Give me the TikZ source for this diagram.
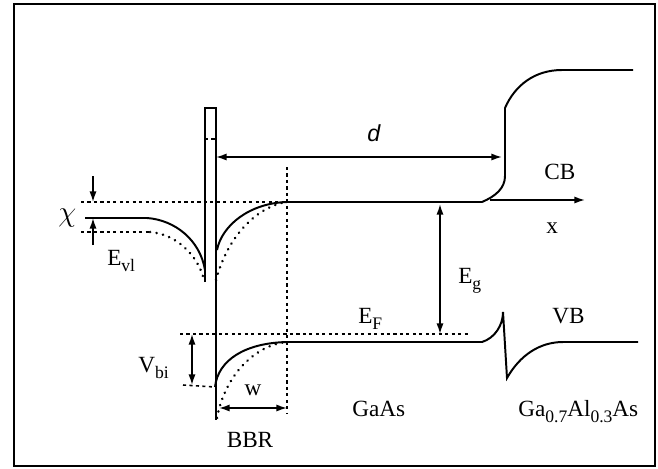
\documentclass[tikz,border=0pt]{standalone}
\usepackage{fontspec}
\setmainfont{Liberation Serif}
\newfontfamily\sansit{Liberation Sans}
\usetikzlibrary{arrows.meta, positioning}
\newcommand{\lowsub}[1]{\raisebox{-4.5pt}{\fontsize{12.5}{14}\selectfont #1}}
\tikzset{
  band/.style={line width=1.4pt},
  lvl/.style={line width=1.1pt, dash pattern=on 2.2pt off 2.4pt},
  dotcurve/.style={line width=1.9pt, dash pattern=on 0.1pt off 4.6pt, line cap=round},
  dim/.style={line width=1.1pt, {Latex[length=7.5pt,width=5pt]}-{Latex[length=7.5pt,width=5pt]}},
  tip/.style={line width=1.1pt, -{Latex[length=7.5pt,width=5pt]}},
  lbl/.style={font=\fontsize{16.5}{19}\selectfont, inner sep=0pt, anchor=base west}}

\begin{document}
\begin{tikzpicture}[x=0.025cm, y=-0.025cm]
  \useasboundingbox (0,0) rectangle (658,468);
  \draw[line width=1.7pt] (14,4) rectangle (655,466);
  % barrier
    \coordinate (bTL) at (205,108);
    \coordinate (bTR) at (216,108);
    \coordinate (bML) at (205,139);
    \coordinate (bMR) at (216,139);
    \coordinate (bBL) at (205,282);
    \coordinate (bBR) at (216,420);
  \draw[band] (bBL) -- (bTL) -- (bTR) -- (bBR);
  \draw[lvl] (bML) -- (bMR);
  % conduction band
    \coordinate (cbL0) at (85,218);
    \coordinate (cbL1) at (147,218);
    \coordinate (cbLd) at (205,270);
    \coordinate (cbRd) at (217,250);
    \coordinate (cbR0) at (287,202);
    \coordinate (cbR1) at (482,202);
    \coordinate (cbS0) at (505,176);
    \coordinate (cbS1) at (505,108);
    \coordinate (cbH0) at (562,70);
    \coordinate (cbH1) at (633,70);
  \draw[band] (cbL0) -- (cbL1) .. controls (175,220) and (200,240) .. (cbLd);
  \draw[band] (cbRd) .. controls (222,225) and (250,203) .. (cbR0) -- (cbR1)
     .. controls (496,196) and (505,188) .. (cbS0) -- (cbS1)
     .. controls (515,85) and (535,70) .. (cbH0) -- (cbH1);
    \coordinate (vacA) at (81,202);
    \coordinate (fermA) at (81,232);
    \coordinate (fermB) at (150,232);
    \coordinate (fermD) at (204,280);
    \coordinate (fermE) at (216,280);
  \draw[lvl] (vacA) -- (cbR0);
  \draw[lvl] (fermA) -- (fermB);
  \draw[dotcurve] (fermB) .. controls (176,234) and (198,255) .. (fermD);
  \draw[dotcurve] (fermE) .. controls (228,235) and (258,206) .. (cbR0);
  % valence band
    \coordinate (vbLd) at (215,387);
    \coordinate (vbR0) at (287,342);
    \coordinate (vbR1) at (482,342);
    \coordinate (vbP) at (503,312);
    \coordinate (vbQ) at (507,378);
    \coordinate (vbH0) at (563,342);
    \coordinate (vbH1) at (638,342);
    \coordinate (vbDd) at (217,418);
  \draw[band] (vbLd) .. controls (218,360) and (245,343) .. (vbR0) -- (vbR1)
     .. controls (495,338) and (503,325) .. (vbP) -- (vbQ)
     .. controls (520,355) and (540,342) .. (vbH0) -- (vbH1);
  \draw[dotcurve] (vbDd) .. controls (225,375) and (255,345) .. (vbR0);
    \coordinate (efA) at (180,334);
    \coordinate (efB) at (468,334);
    \coordinate (vbiA) at (183,385);
    \coordinate (wT) at (287,167);
    \coordinate (wB) at (287,413);
  \draw[lvl] (efA) -- (efB);
  \draw[lvl] (vbiA) -- (vbLd);
  \draw[lvl] (wT) -- (wB);
  % dimensions
    \coordinate (dL) at (216,157);
    \coordinate (dR) at (502,157);
    \coordinate (chiA) at (93,176);
    \coordinate (chiB) at (93,202);
    \coordinate (chiC) at (93,245);
    \coordinate (chiD) at (93,218);
    \coordinate (egA) at (440,204);
    \coordinate (egB) at (440,334);
    \coordinate (vbiT) at (192,334);
    \coordinate (vbiB) at (192,385);
    \coordinate (wL) at (219,408);
    \coordinate (wR) at (287,408);
    \coordinate (xA) at (490,200);
    \coordinate (xB) at (585,200);
  \draw[dim] (dL) -- (dR);
  \draw[tip] (chiA) -- (chiB);
  \draw[tip] (chiC) -- (chiD);
  \draw[dim] (egA) -- (egB);
  \draw[dim] (vbiT) -- (vbiB);
  \draw[dim] (wL) -- (wR);
  \draw[tip] (xA) -- (xB);
  % labels
  \node[lbl] (dlab) at (367,141) {\sansit\itshape d};
  \node[lbl] (cblab) at (544,179) {CB};
  \node[lbl] (xlab) at (546,233) {x};
  \node[lbl] (chilab) at (58,221) {\fontsize{20}{22}\selectfont$\chi$};
  \node[lbl] (evlab) at (107,265) {E\lowsub{vl}};
  \node[lbl] (eglab) at (458,283) {E\lowsub{g}};
  \node[lbl] (eflab) at (358,323) {E\lowsub{F}};
  \node[lbl] (vblab) at (552,323) {VB};
  \node[lbl] (vbilab) at (138,372) {V\lowsub{bi}};
  \node[lbl, anchor=base] (wlab) at (253,395) {w};
  \node[lbl, anchor=base] (bbrlab) at (250,447) {BBR};
  \node[lbl] (gaaslab) at (352,416) {GaAs};
  \node[lbl] (alaslab) at (518,416) {Ga\lowsub{0.7}Al\lowsub{0.3}As};
\end{tikzpicture}
\end{document}
